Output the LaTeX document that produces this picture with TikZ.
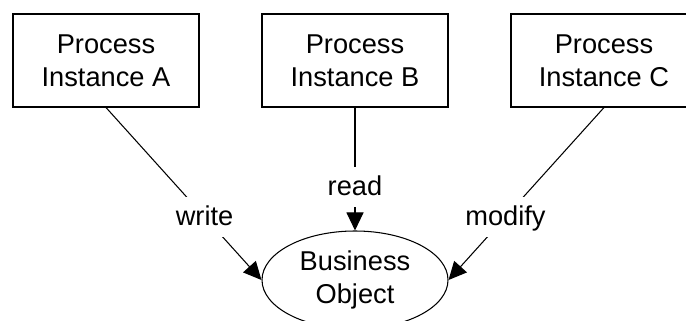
\documentclass[tikz,border=0pt]{standalone}
\usepackage{fontspec}
\setmainfont{Liberation Sans}
\usetikzlibrary{positioning,shapes.geometric,arrows.meta}
\tikzset{
  proc/.style={draw, line width=0.6pt, minimum width=37.2mm, minimum height=18.6mm, inner sep=0pt, align=center},
  bobj/.style={draw, ellipse, line width=0.6pt, minimum width=37.2mm, minimum height=19.6mm, inner sep=0pt, align=center},
  lbl/.style={fill=white, text height=4.6mm, text depth=1mm, inner xsep=1mm, inner ysep=1.2mm},
  flow/.style={line width=0.6pt, -{Triangle[length=3.6mm, width=3.4mm]}}}

\begin{document}
\begin{tikzpicture}[font=\fontsize{15.5pt}{18.8pt}\selectfont]
\clip (0,0) rectangle (13.72,-6.42);
\node[proc] (pa) at (2.12,-1.21) {Process\\Instance A};
\node[proc] (pb) at (7.10,-1.21) {Process\\Instance B};
\node[proc] (pc) at (12.08,-1.21) {Process\\Instance C};
\node[bobj] (bo) at (7.10,-5.60) {Business\\Object};
\draw[flow] (pa.south) -- node[lbl, pos=0.634] {write} (bo.west);
\draw[flow] (pb.south) -- node[lbl, pos=0.645] {read} (bo.north);
\draw[flow] (pc.south) -- node[lbl, pos=0.634] {modify} (bo.east);
\end{tikzpicture}
\end{document}
